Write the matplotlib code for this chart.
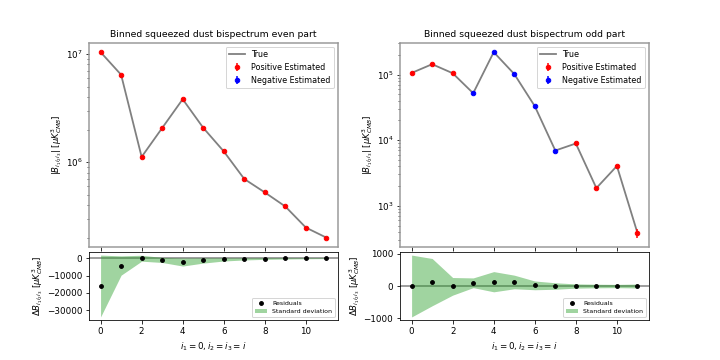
import numpy as np
import matplotlib
matplotlib.use("Agg")
import matplotlib.pyplot as plt

x_idx = list(range(12))

true_even = [1.04e7, 6.43e6, 1.12e6, 2.07e6, 3.82e6, 2.08e6, 1.26e6, 7.0e5, 5.26e5, 3.9e5, 2.49e5, 2.01e5]
res_even = [-16000, -4200, 0, -1000, -2200, -1300, -700, -400, -200, -100, -50, 0]
std_even = [17800, 5550, 1700, 1450, 2300, 1500, 900, 600, 450, 350, 250, 200]

true_odd = [1.06e5, 1.44e5, 1.05e5, -5.2e4, -2.2e5, -1.02e5, -3.3e4, -6.95e3, 8.9e3, 1.86e3, 4.04e3, 386]
res_odd = [0, 120, -10, 100, 133, 125, 20, 0, 0, 0, 0, 0]
std_odd = [955, 730, 272, 150, 312, 210, 135, 100, 65, 55, 50, 60]

res_yticks = [[0, -10000, -20000, -30000], [1000, 0, -1000]]

titles = ["Binned squeezed dust bispectrum even part", "Binned squeezed dust bispectrum odd part"]

fig = plt.figure(figsize=(10, 5), dpi=72)

lefts = [0.124, 0.556]
width = 0.345
top_bottom, top_height = 0.314, 0.567
bot_bottom, bot_height = 0.111, 0.189

for k, (tv, rv, sv) in enumerate([(true_even, res_even, std_even), (true_odd, res_odd, std_odd)]):
    tv = np.array(tv, dtype=float)
    rv = np.array(rv, dtype=float)
    sv = np.array(sv, dtype=float)
    xs = np.array(x_idx)
    est = tv + rv

    ax = fig.add_axes([lefts[k], top_bottom, width, top_height])
    ax.plot(xs, np.abs(tv), color='gray', lw=1.8, label='True', zorder=1)
    pos = est >= 0
    ax.errorbar(xs[pos], np.abs(est[pos]), yerr=sv[pos], fmt='o', color='red', ms=4.5,
                label='Positive Estimated', zorder=3)
    ax.errorbar(xs[~pos], np.abs(est[~pos]), yerr=sv[~pos], fmt='o', color='blue', ms=4.5,
                label='Negative Estimated', zorder=3)
    ax.set_yscale('log')
    ax.set_title(titles[k], fontsize=9.3)
    ax.set_ylabel(r'$|B_{i_1i_2i_3}|$ [$\mu K^3_{CMB}$]', fontsize=8.5, labelpad=2)
    ax.tick_params(labelsize=8.8)
    ax.set_xticks(range(0, 12, 2))
    ax.set_xticklabels([])
    ax.set_xlim(-0.55, 11.55)
    for sp in ax.spines.values():
        sp.set_color('#999999')
        sp.set_linewidth(1.5)
    ax.legend(fontsize=8, loc='upper right')

    axb = fig.add_axes([lefts[k], bot_bottom, width, bot_height])
    axb.axhline(0, color='gray', lw=1.5, zorder=1)
    axb.fill_between(xs, rv - sv, rv + sv, color='tab:green', alpha=0.45, lw=0,
                     label='Standard deviation', zorder=2)
    axb.plot(xs, rv, 'o', color='black', ms=3.8, label='Residuals', zorder=3)
    axb.set_ylabel(r'$\Delta B_{i_1i_2i_3}$ [$\mu K^3_{CMB}$]', fontsize=8.5, labelpad=2)
    axb.set_xlabel(r'$i_1 = 0, i_2 = i_3 = i$', fontsize=8.7)
    axb.tick_params(labelsize=8.8)
    axb.set_xticks(range(0, 12, 2))
    axb.set_yticks(res_yticks[k])
    axb.set_xlim(-0.55, 11.55)
    h, l = axb.get_legend_handles_labels()
    axb.legend([h[1], h[0]], [l[1], l[0]], fontsize=6.2, loc='lower right')

fig.savefig('out.png', dpi=72)
